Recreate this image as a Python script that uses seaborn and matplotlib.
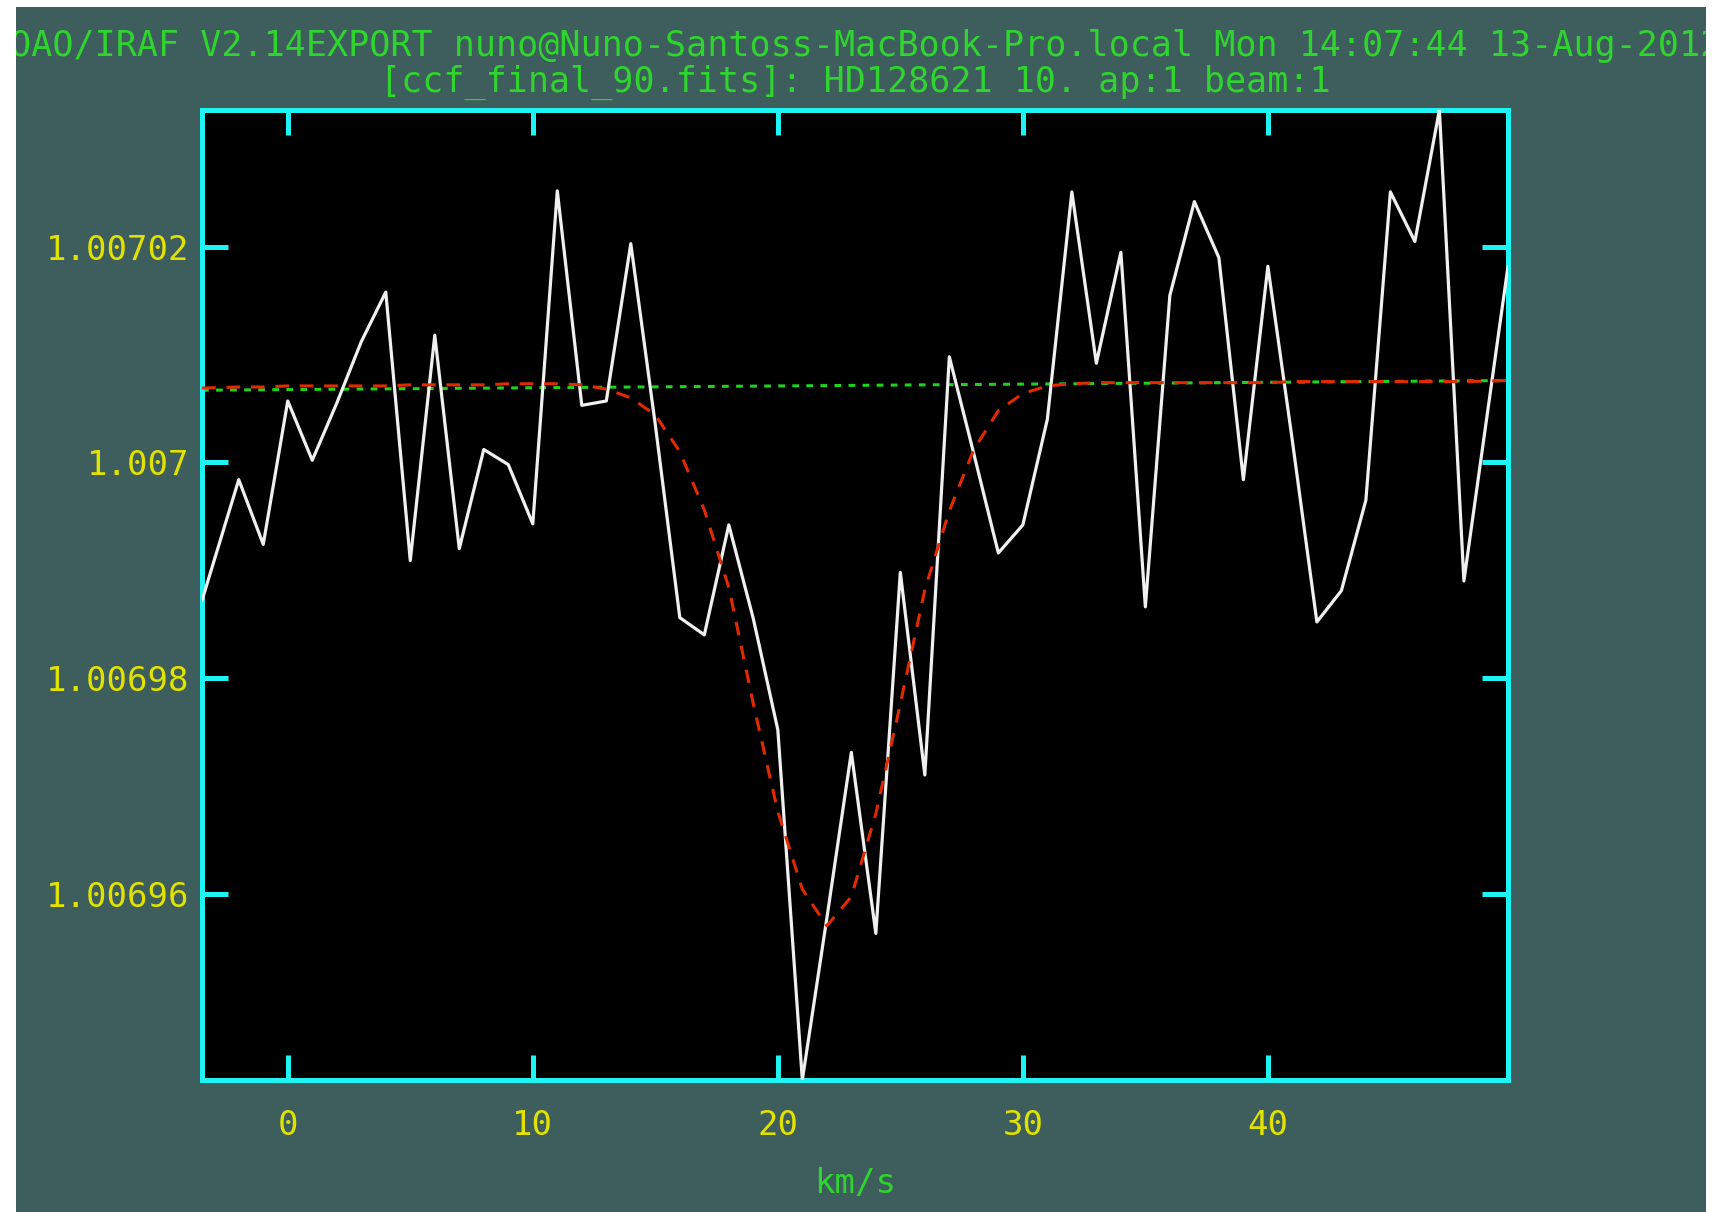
import matplotlib
matplotlib.use("Agg")
import matplotlib.pyplot as plt
import seaborn as sns
from matplotlib.patches import Rectangle

# ---------------- data ----------------
velocity = [-3.5, -2, -1, 0, 1, 2, 3, 4, 5, 6, 7, 8, 9, 10, 11, 12, 13, 14, 15,
            16, 17, 18, 19, 20, 21, 22, 23, 24, 25, 26, 27, 28, 29, 30, 31, 32,
            33, 34, 35, 36, 37, 38, 39, 40, 41, 42, 43, 44, 45, 46, 47, 48, 49.8]

ccf = [1.0069872, 1.0069984, 1.0069924, 1.0070057, 1.0070002, 1.0070055,
       1.0070112, 1.0070158, 1.0069909, 1.0070118, 1.0069920, 1.0070012,
       1.0069998, 1.0069943, 1.0070252, 1.0070053, 1.0070057, 1.0070203,
       1.0070035, 1.0069856, 1.0069840, 1.0069942, 1.0069855, 1.0069752,
       1.0069427, 1.0069577, 1.0069731, 1.0069563, 1.0069898, 1.0069710,
       1.0070098, 1.0070008, 1.0069916, 1.0069942, 1.0070040, 1.0070251,
       1.0070092, 1.0070195, 1.0069866, 1.0070155, 1.0070242, 1.0070190,
       1.0069984, 1.0070182, 1.0070020, 1.0069852, 1.0069881, 1.0069965,
       1.0070251, 1.0070205, 1.0070327, 1.0069890, 1.0070182]

fit = [1.0070069, 1.0070070, 1.0070070, 1.0070071, 1.0070071, 1.0070071,
       1.0070071, 1.0070071, 1.0070072, 1.0070072, 1.0070072, 1.0070072,
       1.0070073, 1.0070073, 1.0070073, 1.0070072, 1.0070068, 1.0070060,
       1.0070044, 1.0070010, 1.0069956, 1.0069884, 1.0069776, 1.0069676,
       1.0069604, 1.0069570, 1.0069597, 1.0069674, 1.0069776, 1.0069882,
       1.0069955, 1.0070012, 1.0070048, 1.0070064, 1.0070071, 1.0070073,
       1.0070074, 1.0070074, 1.0070074, 1.0070074, 1.0070074, 1.0070074,
       1.0070074, 1.0070074, 1.0070075, 1.0070075, 1.0070075, 1.0070075,
       1.0070075, 1.0070075, 1.0070075, 1.0070075, 1.0070076]

continuum_velocity = [-3.5, 49.8]
continuum = [1.0070067, 1.0070076]

xticks = [0, 10, 20, 30, 40]
yticks = [1.00696, 1.00698, 1.007, 1.00702]
ytick_labels = ["1.00696", "1.00698", "1.007", "1.00702"]

title1 = "NOAO/IRAF V2.14EXPORT nuno@Nuno-Santoss-MacBook-Pro.local Mon 14:07:44 13-Aug-2012"
title2 = "[ccf_final_90.fits]: HD128621 10. ap:1 beam:1"
xlabel = "km/s"

# ---------------- style ----------------
SLATE = "#3d5e5c"
CYAN = "#1ef4f4"
YELLOW = "#e2e200"
GREEN_TXT = "#2fd42f"
WHITE_LINE = "#f0f0f0"
RED = "#e12a00"
GREEN_LINE = "#1ed21e"

sns.set_style("dark")
plt.rcParams["font.family"] = ["DejaVu Sans Mono", "DejaVu Sans"]

W, H = 1722, 1212
fig = plt.figure(figsize=(W / 100, H / 100), dpi=100, facecolor=SLATE)

ax = fig.add_axes([202 / W, 1 - 1080 / H, (1508 - 202) / W, (1080 - 110) / H])
ax.set_facecolor("black")

sns.lineplot(x=velocity, y=ccf, ax=ax, color=WHITE_LINE, linewidth=2.3,
             estimator=None, sort=False, zorder=3)
sns.lineplot(x=velocity, y=fit, ax=ax, color=RED, linewidth=2.2,
             linestyle=(0, (4.5, 3.5)), estimator=None, sort=False, zorder=4)
sns.lineplot(x=continuum_velocity, y=continuum, ax=ax, color=GREEN_LINE,
             linewidth=2.2, linestyle=(0, (2.2, 2.4)), estimator=None,
             sort=False, zorder=2)

ax.set_xlim(velocity[0], velocity[-1])
ax.set_ylim(min(ccf), max(ccf))
ax.grid(False)

for s in ax.spines.values():
    s.set_visible(True)
    s.set_color(CYAN)
    s.set_linewidth(3.6)

ax.set_xticks(xticks)
ax.set_xticklabels([str(t) for t in xticks])
ax.set_yticks(yticks)
ax.set_yticklabels(ytick_labels)
ax.tick_params(axis="both", which="major", direction="in", color=CYAN,
               width=3.6, top=True, right=True, bottom=True, left=True,
               labelcolor=YELLOW, labelsize=24.5)
ax.tick_params(axis="x", length=18, pad=21)
ax.tick_params(axis="y", length=19, pad=9)
ax.minorticks_off()

ax.set_xlabel(xlabel, color=GREEN_TXT, fontsize=24.5, labelpad=18)
ax.set_ylabel("")

cx = (202 + 1508) / 2 / W
fig.text(cx, 1 - 46 / H, title1, color=GREEN_TXT, fontsize=25.2,
         ha="center", va="center", zorder=1)
fig.text(cx, 1 - 82 / H, title2, color=GREEN_TXT, fontsize=25.2,
         ha="center", va="center", zorder=1)

# white margins of the screenshot (cover clipped title ends)
for (x0, y0, w, h) in [(0, 0, 16, H), (1706, 0, W - 1706, H), (0, H - 7, W, 7)]:
    fig.add_artist(Rectangle((x0 / W, y0 / H), w / W, h / H,
                             transform=fig.transFigure, facecolor="white",
                             edgecolor="none", zorder=10))

fig.savefig("out.png", dpi=100, facecolor=SLATE)
